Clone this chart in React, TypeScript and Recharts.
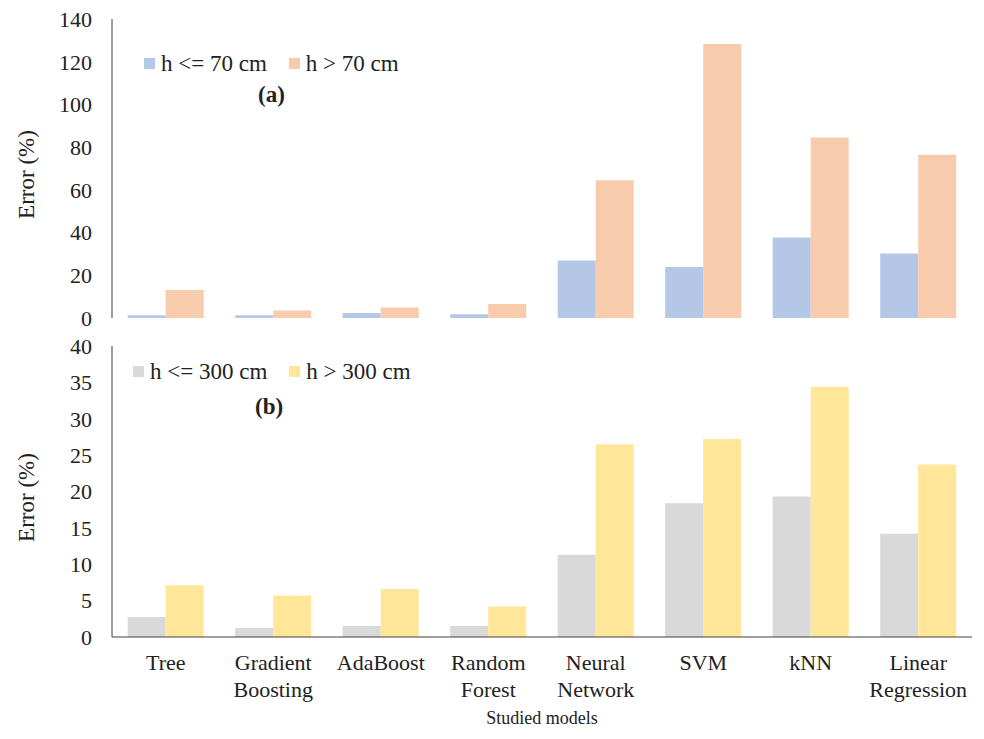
import React from "react";
import { BarChart, Bar, XAxis, YAxis, Legend } from "recharts";

const categories = [
  "Tree",
  "Gradient Boosting",
  "AdaBoost",
  "Random Forest",
  "Neural Network",
  "SVM",
  "kNN",
  "Linear Regression",
];

// panel (a)
const lowA = [1.3, 1.3, 2.3, 1.7, 26.9, 23.9, 37.7, 30.2];
const highA = [13.1, 3.5, 4.9, 6.6, 64.5, 128.3, 84.5, 76.4];
const ticksA = [0, 20, 40, 60, 80, 100, 120, 140];

// panel (b)
const lowB = [2.75, 1.25, 1.5, 1.5, 11.3, 18.4, 19.3, 14.2];
const highB = [7.1, 5.7, 6.6, 4.2, 26.5, 27.2, 34.4, 23.7];
const ticksB = [0, 5, 10, 15, 20, 25, 30, 35, 40];

const SERIF = '"Liberation Serif", "Times New Roman", serif';
const AXIS = "#404040";

const dataA = categories.map((name, i) => ({ name, low: lowA[i], high: highA[i] }));
const dataB = categories.map((name, i) => ({ name, low: lowB[i], high: highB[i] }));

function YTitle(props: any) {
  const vb = props.viewBox || { x: 0, y: 0, height: 0 };
  const cx = vb.x + 14;
  const cy = vb.y + vb.height / 2 + 6;
  return (
    <text
      x={cx}
      y={cy}
      transform={`rotate(-90 ${cx} ${cy})`}
      textAnchor="middle"
      dominantBaseline="central"
      fontFamily={SERIF}
      fontSize={23}
      fill="#222"
    >
      Error (%)
    </text>
  );
}

function XTitle(props: any) {
  const vb = props.viewBox || { x: 0, y: 0, width: 0 };
  return (
    <text
      x={vb.x + vb.width / 2}
      y={vb.y + 87}
      textAnchor="middle"
      fontFamily={SERIF}
      fontSize={18}
      fill="#222"
    >
      Studied models
    </text>
  );
}

function CategoryTick(props: any) {
  const { x, y, payload } = props;
  const lines = String(payload.value).split(" ");
  return (
    <text x={x} y={y} textAnchor="middle" fontFamily={SERIF} fontSize={22} fill="#222">
      {lines.map((line, i) => (
        <tspan key={i} x={x} dy={i === 0 ? 33 : 27}>
          {line}
        </tspan>
      ))}
    </text>
  );
}

function LegendRow(props: any) {
  const items = props.payload || [];
  return (
    <div style={{ display: "flex", alignItems: "center", fontFamily: SERIF, fontSize: 23, lineHeight: "23px", color: "#222", whiteSpace: "nowrap" }}>
      {items.map((item: any) => (
        <span key={item.value} style={{ display: "flex", alignItems: "center", marginRight: 22 }}>
          <span style={{ width: 11, height: 11, background: item.color, marginRight: 6, display: "inline-block" }} />
          {item.value}
        </span>
      ))}
    </div>
  );
}

const tickStyle = { fontFamily: SERIF, fontSize: 22, fill: "#222" };

export default function App() {
  return (
    <div style={{ position: "absolute", left: 0, top: 0, width: 984, height: 739, background: "#fff" }}>
      <div style={{ position: "absolute", left: 0, top: 0 }}>
        <BarChart
          width={984}
          height={340}
          data={dataA}
          margin={{ top: 19, right: 12, bottom: 22, left: 12 }}
          barCategoryGap="14.6%"
          barGap={0}
        >
          <XAxis dataKey="name" hide />
          <YAxis
            domain={[0, 140]}
            ticks={ticksA}
            width={100}
            axisLine={{ stroke: AXIS }}
            tickLine={false}
            tickSize={0}
            tickMargin={20}
            tick={tickStyle}
            label={<YTitle />}
          />
          <Legend
            layout="vertical"
            align="center"
            verticalAlign="middle"
            content={<LegendRow />}
            wrapperStyle={{ top: 52, left: 144, width: "auto" }}
          />
          <Bar dataKey="low" name="h <= 70 cm" fill="#b4c7e7" isAnimationActive={false} />
          <Bar dataKey="high" name="h > 70 cm" fill="#f8cbad" isAnimationActive={false} />
        </BarChart>
      </div>
      <div style={{ position: "absolute", left: 258, top: 83, fontFamily: SERIF, fontWeight: "bold", fontSize: 23, lineHeight: "23px", color: "#222" }}>
        (a)
      </div>

      <div style={{ position: "absolute", left: 0, top: 330 }}>
        <BarChart
          width={984}
          height={409}
          data={dataB}
          margin={{ top: 16, right: 12, bottom: 22, left: 12 }}
          barCategoryGap="14.6%"
          barGap={0}
        >
          <XAxis
            dataKey="name"
            height={80}
            interval={0}
            axisLine={{ stroke: AXIS }}
            tickLine={false}
            tickSize={0}
            tickMargin={0}
            tick={<CategoryTick />}
            label={<XTitle />}
          />
          <YAxis
            domain={[0, 40]}
            ticks={ticksB}
            width={100}
            axisLine={{ stroke: AXIS }}
            tickLine={false}
            tickSize={0}
            tickMargin={20}
            tick={tickStyle}
            label={<YTitle />}
          />
          <Legend
            layout="vertical"
            align="center"
            verticalAlign="middle"
            content={<LegendRow />}
            wrapperStyle={{ top: 30, left: 133, width: "auto" }}
          />
          <Bar dataKey="low" name="h <= 300 cm" fill="#d9d9d9" isAnimationActive={false} />
          <Bar dataKey="high" name="h > 300 cm" fill="#ffe699" isAnimationActive={false} />
        </BarChart>
      </div>
      <div style={{ position: "absolute", left: 255, top: 395, fontFamily: SERIF, fontWeight: "bold", fontSize: 23, lineHeight: "23px", color: "#222" }}>
        (b)
      </div>
    </div>
  );
}
